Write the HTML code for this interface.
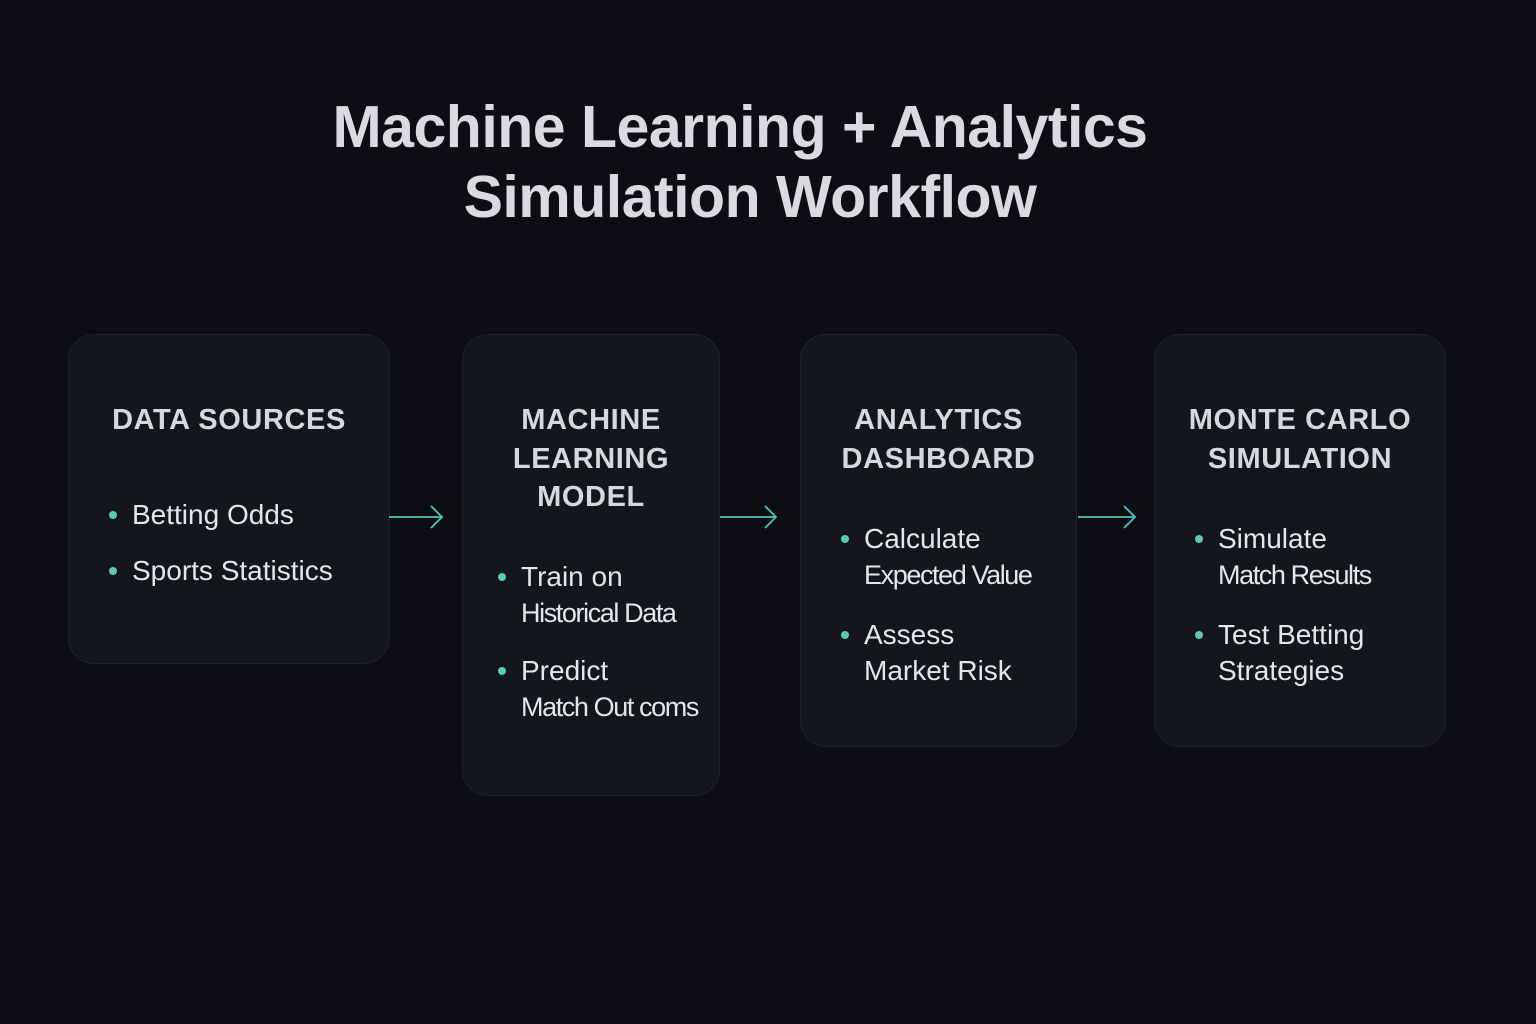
<!DOCTYPE html>
<html><head><style>
body{margin:0;width:1536px;height:1024px;background:#0c0e12;position:relative;overflow:hidden;font-family:"Liberation Sans",sans-serif;}
.t{position:absolute;left:0;width:1480px;text-align:center;color:#d9dbde;font-size:59px;font-weight:bold;letter-spacing:-0.5px}
.box{position:absolute;background:#13161b;border:1.5px solid #1f2328;border-radius:26px;box-sizing:border-box}
.h{position:absolute;left:0;right:0;text-align:center;color:#d6d8db;font-size:29px;font-weight:bold;letter-spacing:0.6px;line-height:38.5px}
.b{position:absolute;color:#e4e6e8;font-size:28px;line-height:36px}
.b::before{content:"";position:absolute;left:-23px;top:14px;width:8px;height:8px;border-radius:50%;background:#5ccab9}
.s{font-size:27px;letter-spacing:-1.4px}
</style></head><body>
<div class="t" style="top:93px">Machine Learning + Analytics</div>
<div class="t" style="top:163px;left:10px">Simulation Workflow</div>

<div class="box" style="left:68px;top:334px;width:322px;height:330px">
<div class="h" style="top:66px">DATA SOURCES</div>
<div class="b" style="left:63px;top:162px">Betting Odds</div>
<div class="b" style="left:63px;top:218px">Sports Statistics</div>
</div>
<div class="box" style="left:462px;top:334px;width:258px;height:462px">
<div class="h" style="top:66px">MACHINE<br>LEARNING<br>MODEL</div>
<div class="b" style="left:58px;top:224px">Train on<br><span class="s">Historical Data</span></div>
<div class="b" style="left:58px;top:318px">Predict<br><span class="s">Match Out coms</span></div>
</div>
<div class="box" style="left:800px;top:334px;width:277px;height:413px">
<div class="h" style="top:66px">ANALYTICS<br>DASHBOARD</div>
<div class="b" style="left:63px;top:186px">Calculate<br><span class="s">Expected Value</span></div>
<div class="b" style="left:63px;top:282px">Assess<br>Market Risk</div>
</div>
<div class="box" style="left:1154px;top:334px;width:292px;height:413px">
<div class="h" style="top:66px">MONTE CARLO<br>SIMULATION</div>
<div class="b" style="left:63px;top:186px">Simulate<br><span class="s">Match Results</span></div>
<div class="b" style="left:63px;top:282px">Test Betting<br>Strategies</div>
</div>

<svg width="1536" height="1024" style="position:absolute;left:0;top:0" fill="none" stroke="#4fc4c0" stroke-width="1.8">
<path d="M389 517H441M431 506L442 517L431 528"/>
<path d="M720 517H775M765 506L776 517L765 528"/>
<path d="M1078 517H1134M1124 506L1135 517L1124 528"/>
</svg>
</body></html>
